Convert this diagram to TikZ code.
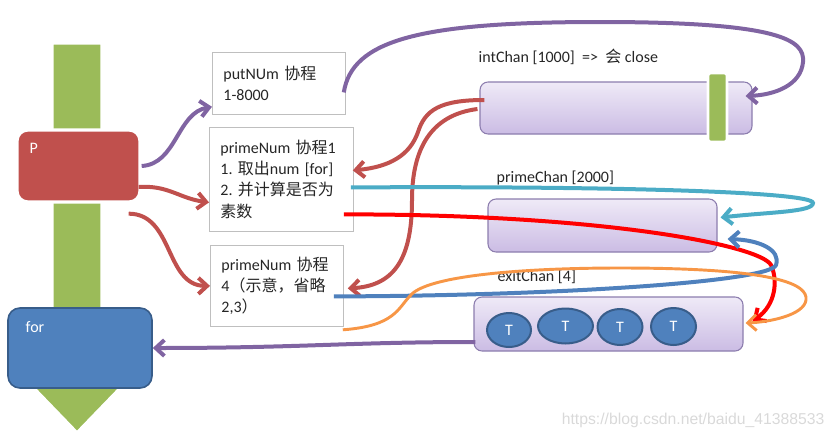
\documentclass[tikz,border=0pt]{standalone}
\usepackage{fontspec}
\setmainfont{Carlito}
\newfontfamily\cjk{Noto Sans CJK SC}
\newfontfamily\wmfont{Liberation Sans}
\usetikzlibrary{arrows.meta,positioning,shapes.geometric}
\frenchspacing

\definecolor{ppurple}{HTML}{8064A2}
\definecolor{pred}{HTML}{C0504D}
\definecolor{pgreen}{HTML}{9BBB59}
\definecolor{pblue}{HTML}{4F81BD}
\definecolor{pblueline}{HTML}{385D8A}
\definecolor{pcyan}{HTML}{4BACC6}
\definecolor{porange}{HTML}{F79646}
\definecolor{chantop}{HTML}{EFEAF7}
\definecolor{chanbot}{HTML}{CBBCE4}
\definecolor{chanline}{HTML}{8C7DAE}

\tikzset{
  txt/.style={font=\fontsize{12}{15.8}\selectfont, text=black!85},
  task/.style={txt, draw=gray!50, fill=white, line width=0.6pt, inner xsep=8.25pt,
    inner ysep=0pt, align=left, anchor=north west},
  chan/.style={draw=chanline, rounded corners=6pt, top color=chantop, bottom color=chanbot,
    line width=0.8pt},
  token/.style={ellipse, draw=pblueline, fill=pblue, line width=1.5pt, text=white,
    inner sep=0pt, font=\fontsize{12}{13}\selectfont},
  lbl/.style={txt, anchor=west},
  flow/.style={line width=3pt, -{Straight Barb[length=6.5pt,width=12pt]}},
}

\begin{document}
\begin{tikzpicture}[x=0.75pt, y=-0.75pt]
\useasboundingbox (0,0) rectangle (837,439);

% 主线程：绿色箭头
\filldraw[fill=pgreen, draw=white, line width=2.5pt]
  (52,43) -- (102,43) -- (102,375) -- (133,375) -- (77,433) -- (21,375) -- (52,375) -- cycle;

% P 与 for
\node[fill=pred, draw=white, line width=2.5pt, rounded corners=8pt,
  minimum width=92.25pt, minimum height=54pt] (p) at (78.5,166) {};
\node[txt, text=white, anchor=west] (ptxt) at (25,148) {P};
\node[fill=pblue, draw=pblueline, line width=1.2pt, rounded corners=9pt,
  minimum width=108pt, minimum height=60pt] (forbox) at (80,348) {};
\node[txt, text=white, anchor=west] (fortxt) at (21,327) {for};

% 协程
\node[task, text width=83.25pt, minimum height=46.5pt] (put) at (212,52)
  {putNUm {\cjk 协程}\\1-8000};
\node[task, text width=91.5pt, minimum height=78pt] (prime1) at (209,127)
  {primeNum {\cjk 协程}1\\1. {\cjk 取出}num [for]\\2. {\cjk 并计算是否为}\\{\cjk 素数}};
\node[task, text width=83.25pt, minimum height=60.75pt] (prime2) at (210,245)
  {primeNum {\cjk 协程}\\4{\cjk （示意，省略}\\2,3{\cjk ）}};

% 管道
\node[chan, minimum width=204pt, minimum height=39pt] (intchan) at (616,108) {};
\node[draw=white, fill=pgreen, line width=2pt, rounded corners=2pt,
  minimum width=14.25pt, minimum height=51.75pt] (bar) at (717.5,107.5) {};
\node[chan, minimum width=171.75pt, minimum height=39.75pt] (primechan) at (602.5,225.5) {};
\node[chan, minimum width=201.75pt, minimum height=40.5pt] (exitchan) at (608.5,324) {};

\node[token, minimum width=33pt, minimum height=25.5pt] (t1) at (509,330) {T};
\node[token, minimum width=41.25pt, minimum height=26.25pt] (t2) at (565.5,326) {T};
\node[token, minimum width=33.75pt, minimum height=27pt] (t3) at (620,327) {T};
\node[token, minimum width=33.75pt, minimum height=27.75pt] (t4) at (673.5,326.5) {T};

% 标签
\node[lbl] (intlbl) at (474,57) {intChan [1000]\ \ =>\ \ {\cjk 会} close};
\node[lbl] (primelbl) at (492,178) {primeChan [2000]};
\node[lbl] (exitlbl) at (493,277) {exitChan [4]};

% P 启动协程
\draw[flow, ppurple] (p.east) .. controls +(35,-2) and +(-35,6) .. ([shift={(0,-8)}]put.south west);
\draw[flow, pred] ([shift={(-3,21)}]p.east) .. controls +(30,-2) and +(-30,-4) .. ([shift={(0,23)}]prime1.west);
\draw[flow, pred] ([shift={(-13,10)}]p.south east) .. controls +(45,0) and +(-45,0) .. (prime2.west);

% putNUm -> intChan
\draw[flow, ppurple] ([shift={(-2,9)}]put.east) .. controls (352,40) and (420,22) .. (600,22)
  .. controls (780,22) and (805,40) .. (803,62)
  .. controls (801,85) and (775,95) .. ([shift={(-7,-12)}]intchan.east);

% intChan -> primeNum
\draw[flow, pred] ([shift={(5,-8)}]intchan.west) .. controls (440,100) and (425,110) .. (418,132)
  .. controls (410,155) and (390,167) .. ([shift={(-1,-9)}]prime1.east);
\draw[flow, pred] ([shift={(-2,1)}]intchan.west) .. controls (430,115) and (412,150) .. (412,200)
  .. controls (412,262) and (392,286) .. ([shift={(4,2.5)}]prime2.east);

% primeNum -> primeChan / exitChan
\draw[flow, pcyan] ([shift={(-3,8)}]prime1.east) .. controls (620,186) and (813,192) .. (813,203)
  .. controls (813,212) and (770,212) .. ([shift={(3,-8)}]primechan.east);
\draw[flow, red] ([shift={(-10,35)}]prime1.east) .. controls (600,214) and (760,245) .. (771,265)
  .. controls (778,280) and (776,305) .. ([shift={(9,-3)}]exitchan.east);
\draw[flow, pblue] ([shift={(-10,10.5)}]prime2.east) .. controls (550,296) and (770,282) .. (776,265)
  .. controls (781,250) and (760,240) .. ([shift={(10,13.5)}]primechan.east);
\draw[flow, porange, line width=2.2pt] ([shift={(-1,3)}]prime2.south east)
  .. controls (395,326) and (398,308) .. (410,296)
  .. controls (425,276) and (520,268) .. (620,268)
  .. controls (780,268) and (808,285) .. (806,300)
  .. controls (804,315) and (770,322) .. ([shift={(2,-1)}]exitchan.east);

% exitChan -> for
\draw[flow, ppurple] ([shift={(2,18)}]exitchan.west) .. controls (350,342) and (300,348) .. (forbox.east);

% 水印
\node[font=\wmfont\fontsize{11.8}{13}\selectfont, text=gray!30, anchor=east] (wm) at (829,420)
  {https://blog.csdn.net/baidu\_41388533};
\end{tikzpicture}
\end{document}
